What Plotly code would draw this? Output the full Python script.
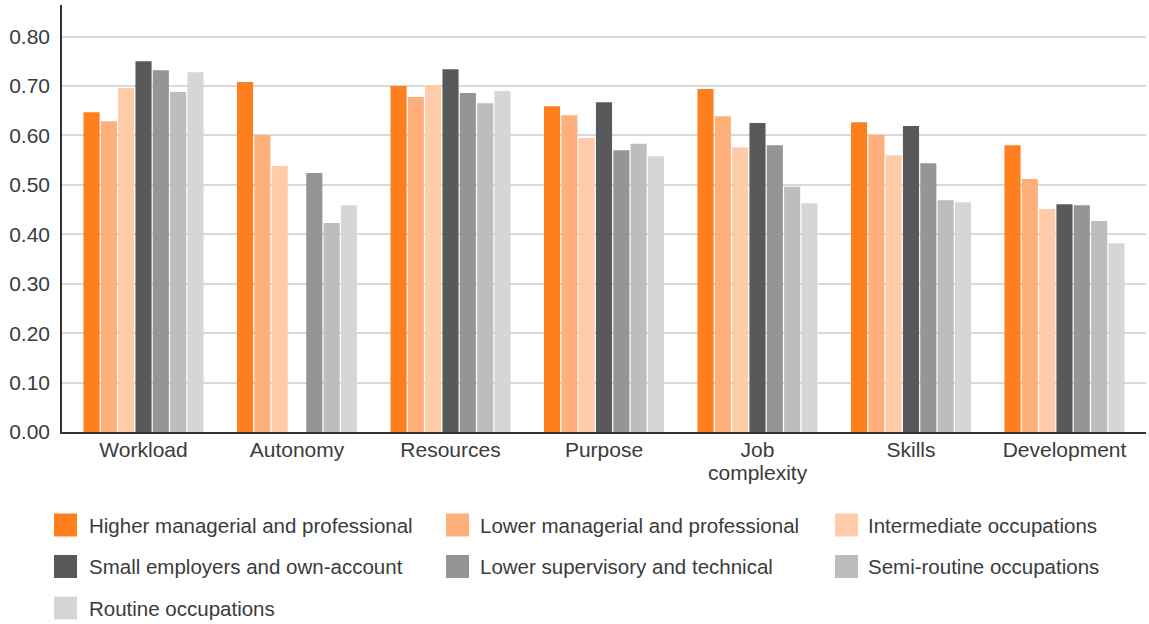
import plotly.graph_objects as go

categories = ["Workload", "Autonomy", "Resources", "Purpose", "Job complexity", "Skills", "Development"]
# axis text for each category; the second word of "Job complexity" sits on its own line
tick_labels = ["Workload", "Autonomy", "Resources", "Purpose", "Job", "Skills", "Development"]

series_names = [
    "Higher managerial and professional",
    "Lower managerial and professional",
    "Intermediate occupations",
    "Small employers and own-account",
    "Lower supervisory and technical",
    "Semi-routine occupations",
    "Routine occupations",
]

higher_managerial = [0.647, 0.708, 0.700, 0.659, 0.694, 0.627, 0.580]
lower_managerial = [0.629, 0.601, 0.678, 0.641, 0.639, 0.601, 0.512]
intermediate = [0.696, 0.538, 0.702, 0.595, 0.576, 0.560, 0.451]
small_employers = [0.750, None, 0.734, 0.667, 0.625, 0.619, 0.461]
lower_supervisory = [0.732, 0.524, 0.686, 0.570, 0.580, 0.544, 0.459]
semi_routine = [0.688, 0.423, 0.665, 0.583, 0.496, 0.469, 0.427]
routine = [0.728, 0.459, 0.690, 0.558, 0.463, 0.465, 0.382]

series_values = [higher_managerial, lower_managerial, intermediate, small_employers,
                 lower_supervisory, semi_routine, routine]

colors = ["#FF7F1E", "#FFB07A", "#FFCBA8", "#58595B", "#949597", "#BCBDBF", "#D6D6D6"]

y_ticks = [0.0, 0.1, 0.2, 0.3, 0.4, 0.5, 0.6, 0.7, 0.8]

FONT = "Liberation Sans"
TEXT_COLOR = "#3b3b3b"
FSIZE = 21
LEGEND_FSIZE = 20.5

fig = go.Figure()
for name, vals, col in zip(series_names, series_values, colors):
    fig.add_trace(go.Bar(
        x=list(range(len(categories))), y=vals, name=name,
        marker=dict(color=col, line=dict(width=0)),
        showlegend=False,
    ))

# plot area geometry in pixels (used to place the custom legend)
W, H = 1149, 624
L, R, T, B = 62, 3, 5, 192
plot_w = W - L - R
plot_h = H - T - B

def px_to_paper_x(px):
    return (px - L) / plot_w

def px_to_paper_y(py):
    return (H - B - py) / plot_h

# second line of the "Job complexity" category label
fig.add_annotation(xref="x", yref="paper", x=categories.index("Job complexity"),
                   y=px_to_paper_y(473), text="complexity", showarrow=False,
                   xanchor="center", yanchor="middle",
                   font=dict(family=FONT, size=FSIZE, color=TEXT_COLOR))

# custom legend: three columns of square swatches with labels
col_x = [54, 446, 835]
text_x = [89, 480, 868]
row_y = [525, 566.5, 608]
sw = 23
for i, (name, col) in enumerate(zip(series_names, colors)):
    c, r = i % 3, i // 3
    x0 = col_x[c]
    yc = row_y[r]
    fig.add_shape(type="rect", xref="paper", yref="paper",
                  x0=px_to_paper_x(x0), x1=px_to_paper_x(x0 + sw),
                  y0=px_to_paper_y(yc + sw / 2), y1=px_to_paper_y(yc - sw / 2),
                  fillcolor=col, line=dict(width=0))
    fig.add_annotation(xref="paper", yref="paper",
                       x=px_to_paper_x(text_x[c] - 2), y=px_to_paper_y(yc),
                       text=name, showarrow=False, xanchor="left", yanchor="middle",
                       font=dict(family=FONT, size=LEGEND_FSIZE, color=TEXT_COLOR))

fig.update_layout(
    width=W, height=H,
    margin=dict(l=L, r=R, t=T, b=B),
    paper_bgcolor="white", plot_bgcolor="white",
    barmode="group", bargap=0.21, bargroupgap=0.07,
    font=dict(family=FONT, size=FSIZE, color=TEXT_COLOR),
    xaxis=dict(
        tickmode="array", tickvals=list(range(len(categories))), ticktext=tick_labels,
        range=[-0.531, 6.531], showgrid=False, zeroline=False,
        showline=True, linecolor="#333333", linewidth=1.5,
        ticks="", ticklabelstandoff=-2,
        tickfont=dict(family=FONT, size=FSIZE, color=TEXT_COLOR),
    ),
    yaxis=dict(
        range=[0, 0.864], tickmode="array", tickvals=y_ticks, tickformat=".2f",
        showgrid=True, gridcolor="#d9d9d9", gridwidth=2, zeroline=False,
        showline=True, linecolor="#333333", linewidth=1.5,
        ticks="", ticklabelstandoff=6,
        tickfont=dict(family=FONT, size=FSIZE, color=TEXT_COLOR),
    ),
)

fig.write_html("out.html")
